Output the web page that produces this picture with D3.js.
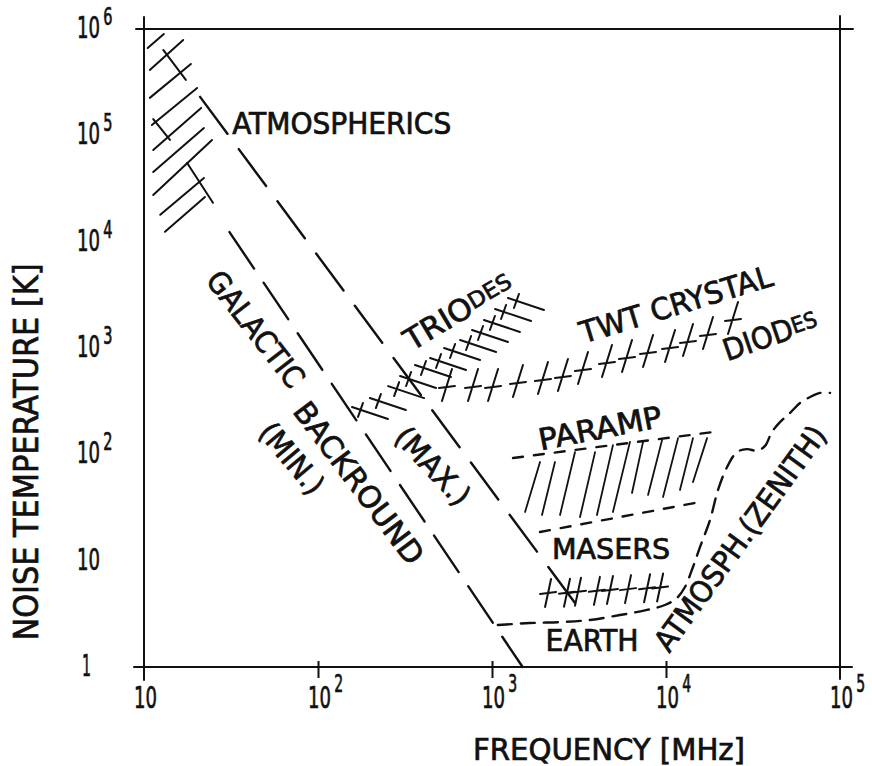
<!DOCTYPE html>
<meta charset="utf-8">
<style>
body { margin: 0; background: #fff; }
svg { display: block; background: #fff; }
.ln { fill: none; stroke: #111; stroke-linecap: round; }
text { font-family: "DejaVu Sans", sans-serif; font-stretch: condensed; fill: #111; stroke: #111; stroke-width: 0.7; }
</style>
<body>
<script src="https://cdn.jsdelivr.net/npm/d3@7"></script>
<script>

// decades on both axes
var xTicks = [10, 100, 1000, 10000, 100000];
var yTicks = [1, 10, 100, 1000, 10000, 100000, 1000000];

// galactic background noise, upper and lower limit  [MHz, K]
var galacticMax = [[21, 230000], [3000, 4.0]];
var galacticMin = [[31, 12300], [1500, 1]];

// atmospherics band (hatch strokes and the cross strokes over it)
var atmoHatch = [
  [[10.5, 663000], [13.0, 898000]],
  [[10.8, 412000], [16.8, 789000]],
  [[10.8, 225000], [18.6, 469000]],
  [[11.1, 125000], [20.2, 279000]],
  [[11.3, 72800], [21.3, 181000]],
  [[11.3, 45200], [22.1, 117000]],
  [[11.3, 27500], [24.6, 90400]],
  [[12.4, 17900], [22.1, 39700]],
  [[13.2, 12400], [22.4, 26300]]
];
var atmoCross = [
  [[12.9, 635000], [17.4, 332000]],
  [[11.3, 142000], [14.1, 90400]],
  [[17.7, 55000], [24.9, 23200]]
];

// triodes
var triodes = [[1567, 2594], [1321, 2044], [1140, 1611], [974, 1297], [832, 1045], [673, 878],
  [559, 707], [458, 608], [376, 479], [321, 385], [252, 297], [199, 245]];

// TWT and crystal diodes
var diodes = [[551, 430], [778, 430], [1014, 430], [1410, 469], [1963, 500], [2557, 534], [3334, 621],
  [4581, 723], [5970, 805], [7884, 898], [10550, 1000], [13380, 1140], [17430, 1326], [24270, 1834]];

// parametric amplifiers: limits and hatch
var parampTop = [[1321, 92.4], [18620, 162]];
var parampBottom = [[1888, 18.6], [14690, 34.9]];
var parampHatch = [
  [[1549, 28.7], [1888, 84.7]], [[1938, 26.9], [2301, 84.7]], [[2460, 26.9], [3000, 105]],
  [[3205, 25.7], [3911, 105]], [[4010, 26.9], [4955, 122]], [[4955, 28.7], [6207, 131]],
  [[6377, 43.3], [7380, 131]], [[7884, 41.5], [9490, 136]], [[9616, 39.7], [11730, 142]],
  [[12030, 46.2], [14290, 142]], [[14290, 54.9], [17220, 142]]
];

// masers
var masers = [[2100, 4.97], [2698, 5.0], [3120, 5.1], [4010, 5.2], [4764, 5.3], [6050, 5.4], [7785, 5.5], [9250, 5.6]];

// earth atmosphere (zenith)
var earthAtm = [[1081, 2.48], [1652, 2.59], [2557, 2.65], [3656, 2.77], [5440, 3.08], [7780, 3.44],
  [9860, 3.83], [11560, 4.46], [12850, 5.65], [14290, 8.72], [15680, 13.4], [17900, 24.1],
  [19900, 46.2], [22440, 76], [25600, 105], [29200, 112], [33400, 108], [37100, 120],
  [40600, 162], [45200, 201], [51600, 245], [58900, 304], [67300, 346], [76800, 378], [87700, 378]];

// labels written in the plot: text, [MHz, K] of their centre, angle
var notes = [
  {t: "ATMOSPHERICS", at: [137, 131000], a: 0, len: 219},
  {t: "GALACTIC", at: [44, 1510], a: 52, len: 139},
  {t: "BACKROUND", at: [172, 54], a: 53, len: 195},
  {t: "(MIN.)", at: [71, 92], a: 50, len: 83},
  {t: "(MAX.)", at: [458, 78], a: 47, len: 95},
  {t: "TRIO", sm: "DES", at: [638, 2230], a: -31, len: 121},
  {t: "TWT CRYSTAL", at: [11400, 2590], a: -17, len: 200},
  {t: "DIOD", sm: "ES", at: [39600, 1326], a: -19, len: 98},
  {t: "PARAMP", at: [4180, 177], a: -11, len: 125},
  {t: "MASERS", at: [4830, 12.9], a: 0, len: 118, fs: 28},
  {t: "EARTH", at: [3760, 1.8], a: 0, len: 93},
  {t: "ATMOSPH.(ZENITH)", at: [26600, 16.3], a: -54, len: 270}
];

var margin = {top: 29, right: 32, bottom: 99, left: 144},
    width = 872 - margin.left - margin.right,
    height = 766 - margin.top - margin.bottom;

var x = d3.scaleLog().domain([10, 100000]).range([0, width]);
var y = d3.scaleLog().domain([1, 1000000]).range([height, 0]);

var svg = d3.select("body").append("svg")
    .attr("width", 872)
    .attr("height", 766);
var g = svg.append("g")
    .attr("transform", "translate(" + margin.left + "," + margin.top + ")");

var line = d3.line().x(function(d) { return x(d[0]); }).y(function(d) { return y(d[1]); });

// frame, lines run a little past the corners
var x0 = x(10), x1 = x(100000), y0 = y(1), y1 = y(1000000);
var frame = [
  [[x0 - 8, y1], [x1 + 13, y1]],
  [[x0 - 10, y0], [x1 + 12, y0]],
  [[x0, y1 - 12], [x0, y0 + 13]],
  [[x1, y1 - 13], [x1, y0 + 12]]
];
g.selectAll(".frame").data(frame).enter().append("line")
    .attr("class", "ln frame")
    .attr("x1", function(d) { return d[0][0]; }).attr("y1", function(d) { return d[0][1]; })
    .attr("x2", function(d) { return d[1][0]; }).attr("y2", function(d) { return d[1][1]; })
    .attr("stroke-width", 2);

// x ticks
var xAxis = g.append("g")
    .attr("transform", "translate(0," + height + ")")
    .call(d3.axisBottom(x).tickValues([100, 1000, 10000]).tickFormat("").tickSizeInner(11).tickSizeOuter(0));
xAxis.select(".domain").remove();
xAxis.selectAll(".tick line").attr("y1", -6).attr("stroke", "#111").attr("stroke-width", 2);

function expOf(v) { return Math.round(Math.log10(v)); }

// tick label: "10" (or "1") squeezed to the narrow hand lettering, exponent raised
function tickLabel(sel, px, py, d, size, rise) {
  var t = sel.append("g").append("text").attr("font-size", size);
  t.append("tspan").text(d == 1 ? "1" : "10");
  if (expOf(d) > 1) {
    t.append("tspan").attr("font-size", 24).attr("dx", 5).attr("dy", -rise).text(expOf(d));
  }
  var w = t.node().getSubStringLength(0, d == 1 ? 1 : 2);
  var s = (d == 1 ? 9 : 23) / w;
  d3.select(t.node().parentNode).attr("transform", "translate(" + px + "," + py + ") scale(" + s + ",1)");
}

var xl = g.append("g").attr("class", "xl");
xTicks.forEach(function(d) { tickLabel(xl, x(d) - 10, height + 41, d, 31, 16); });

var yl = g.append("g").attr("class", "yl");
yTicks.forEach(function(d) { tickLabel(yl, d == 1 ? -62 : -67, y(d) + 9, d, 30, 13); });

// axis titles
svg.append("text")
    .attr("x", 609).attr("y", 760)
    .attr("text-anchor", "middle")
    .attr("font-size", 31)
    .attr("textLength", 272).attr("lengthAdjust", "spacingAndGlyphs")
    .text("FREQUENCY [MHz]");
svg.append("text")
    .attr("transform", "translate(38,452) rotate(-90)")
    .attr("text-anchor", "middle")
    .attr("font-size", 33)
    .attr("textLength", 377).attr("lengthAdjust", "spacingAndGlyphs")
    .text("NOISE TEMPERATURE [K]");

// galactic background
g.append("path").datum(galacticMax).attr("class", "ln").attr("d", line)
    .attr("stroke-width", 2.4).attr("stroke-dasharray", "46,19");
g.append("path").datum(galacticMin).attr("class", "ln").attr("d", line)
    .attr("stroke-width", 2.4).attr("stroke-dasharray", "44,17");

// atmospherics
g.selectAll(".atmo").data(atmoHatch.concat(atmoCross)).enter().append("path")
    .attr("class", "ln atmo").attr("d", line).attr("stroke-width", 2);

// triodes: long stroke with a short tick
g.selectAll(".tri").data(triodes).enter().append("path")
    .attr("class", "ln tri")
    .attr("transform", function(d) { return "translate(" + x(d[0]) + "," + y(d[1]) + ")"; })
    .attr("d", "M-18,-6L18,6M-12,4L-7,-10")
    .attr("stroke-width", 2);

// TWT, crystal diodes
g.selectAll(".dio").data(diodes).enter().append("path")
    .attr("class", "ln dio")
    .attr("transform", function(d) { return "translate(" + x(d[0]) + "," + y(d[1]) + ")"; })
    .attr("d", "M-5,14L5,-18M-8,1L8,-1")
    .attr("stroke-width", 2);

// paramps
g.selectAll(".pl").data([parampTop, parampBottom]).enter().append("path")
    .attr("class", "ln pl").attr("d", line)
    .attr("stroke-width", 2.4).attr("stroke-dasharray", "10,11");
g.selectAll(".ph").data(parampHatch).enter().append("path")
    .attr("class", "ln ph").attr("d", line).attr("stroke-width", 1.8);

// masers
g.selectAll(".mas").data(masers).enter().append("path")
    .attr("class", "ln mas")
    .attr("transform", function(d) { return "translate(" + x(d[0]) + "," + y(d[1]) + ")"; })
    .attr("d", "M-3,14L3,-14M-8,1L8,-1")
    .attr("stroke-width", 2);

// earth atmosphere
g.append("path").datum(earthAtm).attr("class", "ln")
    .attr("d", line.curve(d3.curveCatmullRom.alpha(0.5)))
    .attr("stroke-width", 2.4).attr("stroke-dasharray", "14,9");

// labels
var nt = g.selectAll(".note").data(notes).enter().append("text")
    .attr("class", "note")
    .attr("transform", function(d) { return "translate(" + x(d.at[0]) + "," + y(d.at[1]) + ") rotate(" + d.a + ")"; })
    .attr("text-anchor", "middle")
    .attr("dy", "0.36em")
    .attr("font-size", function(d) { return d.fs || 30; })
    .attr("textLength", function(d) { return d.len; }).attr("lengthAdjust", "spacingAndGlyphs");
nt.append("tspan").text(function(d) { return d.t; });
nt.filter(function(d) { return d.sm; }).append("tspan")
    .attr("font-size", 22).attr("dy", -4)
    .text(function(d) { return d.sm; });

</script>
</body>
